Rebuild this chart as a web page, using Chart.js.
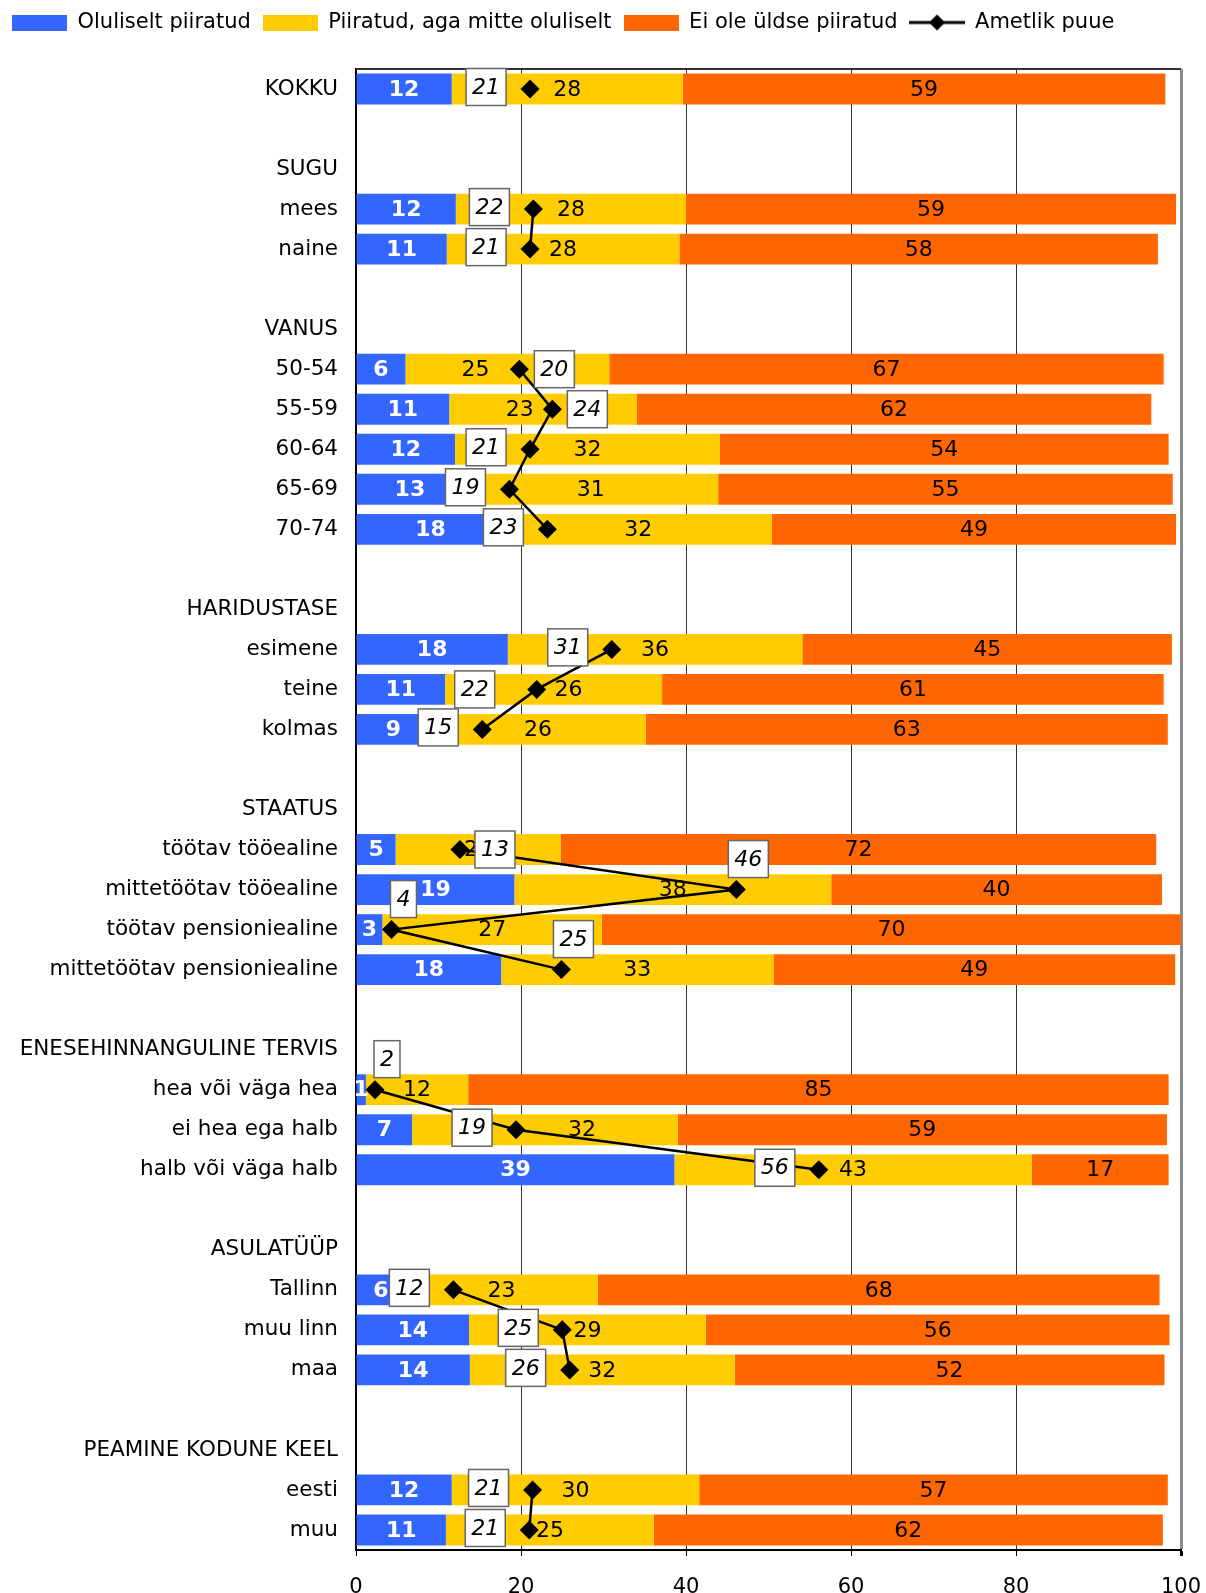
<!DOCTYPE html>
<html>
<head>
<meta charset="utf-8">
<script src="https://cdn.jsdelivr.net/npm/chart.js@4.4.0/dist/chart.umd.min.js"></script>
<style>
  html, body { margin: 0; padding: 0; background: #fff; }
  #wrap { width: 1206px; height: 1593px; position: relative; }
</style>
</head>
<body>
<div id="wrap"><canvas id="myChart"></canvas></div>
<script>
// Kategooriad (tühjad read = vahed gruppide vahel)
const categories = [
    'KOKKU', '',
    'SUGU', 'mees', 'naine', '',
    'VANUS', '50-54', '55-59', '60-64', '65-69', '70-74', '',
    'HARIDUSTASE', 'esimene', 'teine', 'kolmas', '',
    'STAATUS', 'töötav tööealine', 'mittetöötav tööealine', 'töötav pensioniealine', 'mittetöötav pensioniealine', '',
    'ENESEHINNANGULINE TERVIS', 'hea või väga hea', 'ei hea ega halb', 'halb või väga halb', '',
    'ASULATÜÜP', 'Tallinn', 'muu linn', 'maa', '',
    'PEAMINE KODUNE KEEL', 'eesti', 'muu'
];

const oluliselt = [11.6, null, null, 12.1, 11.0, null, null, 6.0, 11.3, 12.0, 13.0, 18.0, null, null, 18.4, 10.8, 9.0, null, null, 4.8, 19.2, 3.2, 17.6, null, null, 1.2, 6.8, 38.6, null, null, 6.0, 13.7, 13.8, null, null, 11.6, 10.9];
const piiratud = [28.0, null, null, 27.9, 28.2, null, null, 24.7, 22.7, 32.1, 30.9, 32.4, null, null, 35.7, 26.3, 26.1, null, null, 20.0, 38.4, 26.6, 33.0, null, null, 12.4, 32.2, 43.3, null, null, 23.3, 28.7, 32.1, null, null, 30.0, 25.2];
const eiOle = [58.5, null, null, 59.4, 58.0, null, null, 67.2, 62.4, 54.4, 55.1, 49.0, null, null, 44.8, 60.8, 63.3, null, null, 72.2, 40.1, 70.2, 48.7, null, null, 84.9, 59.3, 16.6, null, null, 68.1, 56.2, 52.1, null, null, 56.8, 61.7];
const ametlik = [21.1, null, null, 21.5, 21.1, null, null, 19.8, 23.8, 21.1, 18.6, 23.2, null, null, 31.0, 21.9, 15.3, null, null, 12.6, 46.1, 4.3, 24.9, null, null, 2.3, 19.4, 56.1, null, null, 11.8, 25.0, 25.9, null, null, 21.4, 21.0];
const xTicks = [0, 20, 40, 60, 80, 100];

// kuhu "Ametlik puue" sildikast paigutada: l = vasakule, L = kaugemale vasakule, r = paremale, t = üles
const sildiKoht = ['l', '', '', 'l', 'l', '', '', 'r', 'r', 'l', 'l', 'l', '', '', 'l', 'L', 'l', '', '', 'r', 't', 't', 't', '', '', 't', 'l', 'l', '', '', 'l', 'l', 'l', '', '', 'l', 'l'];
// kollase lõigu sildid, mis on joone eest kõrvale nihutatud (rea indeks: nihe pikslites)
const kollaneNihe = { 7: -32, 8: -23, 15: 15, 26: 37 };

const SININE = '#3366FF';
const KOLLANE = '#FFCC00';
const ORANZ = '#FF6600';

Chart.defaults.font.family = '"DejaVu Sans"';
Chart.defaults.font.size = 22;
Chart.defaults.color = '#000';

function kastike(varv) {
    const c = document.createElement('canvas');
    c.width = 55; c.height = 16;
    const g = c.getContext('2d');
    g.fillStyle = varv;
    g.fillRect(0, 0, 55, 16);
    return c;
}

function joonike() {
    const c = document.createElement('canvas');
    c.width = 56; c.height = 20;
    const g = c.getContext('2d');
    g.strokeStyle = '#000';
    g.lineWidth = 3;
    g.beginPath(); g.moveTo(0, 10); g.lineTo(56, 10); g.stroke();
    g.fillStyle = '#000';
    g.beginPath(); g.moveTo(28, 2); g.lineTo(36, 10); g.lineTo(28, 18); g.lineTo(20, 10); g.closePath(); g.fill();
    return c;
}

const legendiPildid = [kastike(SININE), kastike(KOLLANE), kastike(ORANZ), joonike()];

const etiketid = {
    id: 'etiketid',
    beforeLayout(chart) {
        const lg = chart.legend;
        if (lg && !lg._parandatud) {
            const fit = lg.fit;
            lg.fit = function () { fit.call(this); this.height = 69; };
            lg._parandatud = true;
        }
    },
    beforeDatasetsDraw(chart) {
        const ctx = chart.ctx, a = chart.chartArea;
        ctx.save();
        ctx.strokeStyle = '#333';
        ctx.lineWidth = 2;
        ctx.beginPath(); ctx.moveTo(a.left, a.top); ctx.lineTo(a.right, a.top); ctx.stroke();
        ctx.restore();
    },
    beforeDatasetDraw(chart, args) {
        if (args.index !== 3) return;
        const ctx = chart.ctx;
        ctx.save();
        ctx.textAlign = 'center';
        ctx.textBaseline = 'middle';
        [0, 1, 2].forEach(di => {
            const meta = chart.getDatasetMeta(di);
            meta.data.forEach((bar, i) => {
                const v = chart.data.datasets[di].data[i];
                if (v == null) return;
                const c = bar.getCenterPoint();
                const nihe = di === 1 ? (kollaneNihe[i] || 0) : 0;
                ctx.font = di === 0 ? 'bold 22px "DejaVu Sans"' : '22px "DejaVu Sans"';
                ctx.fillStyle = di === 0 ? '#fff' : '#000';
                ctx.fillText(String(Math.round(v)), c.x + nihe, c.y + 1);
            });
        });
        ctx.restore();
    },
    afterDatasetsDraw(chart) {
        const ctx = chart.ctx;
        const meta = chart.getDatasetMeta(3);
        ctx.save();
        ctx.font = 'italic 22px "DejaVu Sans"';
        ctx.textAlign = 'center';
        ctx.textBaseline = 'middle';
        meta.data.forEach((pt, i) => {
            const v = ametlik[i];
            if (v == null) return;
            const txt = String(Math.round(v));
            const w = ctx.measureText(txt).width + 12, h = 37;
            let bx, by;
            const koht = sildiKoht[i];
            if (koht === 'r') { bx = pt.x + 15 + w / 2; by = pt.y; }
            else if (koht === 't') { bx = pt.x + 12; by = pt.y - 12 - h / 2; }
            else if (koht === 'L') { bx = pt.x - 42 - w / 2; by = pt.y; }
            else { bx = pt.x - 24 - w / 2; by = pt.y - 2; }
            ctx.fillStyle = '#fff';
            ctx.fillRect(bx - w / 2, by - h / 2, w, h);
            ctx.strokeStyle = '#666';
            ctx.lineWidth = 1.5;
            ctx.strokeRect(bx - w / 2, by - h / 2, w, h);
            ctx.fillStyle = '#000';
            ctx.fillText(txt, bx, by + 1);
        });
        ctx.restore();
    }
};

const ctx = document.getElementById('myChart').getContext('2d');
new Chart(ctx, {
    type: 'bar',
    data: {
        labels: categories,
        datasets: [
            { label: 'Oluliselt piiratud', data: oluliselt, backgroundColor: SININE, stack: 's', order: 1 },
            { label: 'Piiratud, aga mitte oluliselt', data: piiratud, backgroundColor: KOLLANE, stack: 's', order: 1 },
            { label: 'Ei ole üldse piiratud', data: eiOle, backgroundColor: ORANZ, stack: 's', order: 1 },
            {
                type: 'line',
                label: 'Ametlik puue',
                data: ametlik,
                indexAxis: 'y',
                stack: 'joon',
                order: 0,
                borderColor: '#000',
                borderWidth: 2.5,
                pointStyle: 'rectRot',
                pointRadius: 9.5,
                pointBackgroundColor: '#000',
                pointBorderColor: '#000',
                pointBorderWidth: 0,
                spanGaps: false,
                tension: 0,
                clip: false
            }
        ]
    },
    options: {
        indexAxis: 'y',
        responsive: true,
        maintainAspectRatio: false,
        animation: false,
        layout: { padding: { left: 0, right: 25, top: 0, bottom: 0 } },
        datasets: { bar: { barPercentage: 0.77, categoryPercentage: 1 } },
        scales: {
            x: {
                type: 'linear',
                min: 0,
                max: 100,
                stacked: true,
                afterBuildTicks: s => { s.ticks = xTicks.map(v => ({ value: v })); },
                afterFit: s => { s.height = 43; s.paddingLeft = 0; s.paddingRight = 0; },
                grid: {
                    color: c => (c.tick && c.tick.value === 100) ? '#8c8c8c' : '#333',
                    lineWidth: c => (c.tick && c.tick.value === 100) ? 3 : 1,
                    tickLength: 6,
                    tickColor: '#000'
                },
                border: { color: '#000', width: 2 },
                ticks: { padding: 19, maxRotation: 0, font: { size: 21 }, color: '#000' }
            },
            y: {
                type: 'category',
                stacked: true,
                afterFit: s => { s.width = 356; },
                grid: { display: false, drawTicks: false },
                border: { display: true, color: '#000', width: 2 },
                ticks: { padding: 18, autoSkip: false, font: { size: 21.5 }, color: '#000' }
            }
        },
        plugins: {
            tooltip: { enabled: false },
            legend: {
                position: 'top',
                align: 'start',
                labels: {
                    usePointStyle: true,
                    pointStyleWidth: 55,
                    padding: 12,
                    font: { size: 21 },
                    color: '#000',
                    generateLabels: chart => chart.data.datasets.map((ds, i) => ({
                        text: ds.label,
                        pointStyle: legendiPildid[i],
                        fillStyle: 'transparent',
                        strokeStyle: 'transparent',
                        lineWidth: 0,
                        hidden: false,
                        datasetIndex: i
                    }))
                }
            }
        }
    },
    plugins: [etiketid]
});
</script>
</body>
</html>
